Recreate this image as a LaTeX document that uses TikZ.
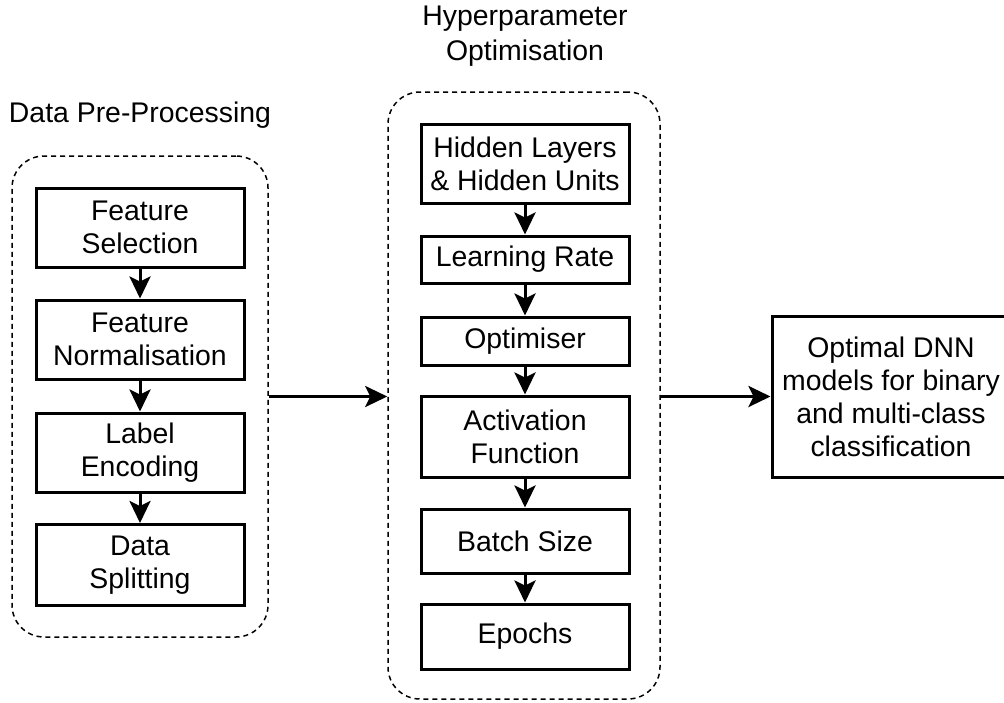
\documentclass[tikz,border=0pt]{standalone}
\usepackage{fontspec}
\setmainfont{Liberation Sans}
\usetikzlibrary{arrows.meta,calc}

\tikzset{
  x=1pt, y=-1pt,
  every node/.style={font=\fontsize{28.4}{33}\selectfont, inner sep=0pt, align=center},
  group/.style={draw, dashed, dash pattern=on 5pt off 4pt, line width=1.5pt, rounded corners=32pt},
  stepbox/.style={draw, line width=3pt, minimum width=208pt},
  arr/.style={line width=3pt, -{Stealth[length=22pt 0,width=21pt 0,inset=5pt 0]}},
}

\begin{document}
\begin{tikzpicture}
  \clip (0,0) rectangle (1004,702);
  \fill[white] (0,0) rectangle (1004,702);

  % group frames
  \node[group, minimum width=256pt, minimum height=481pt] (prep) at (140,396.5) {};
  \node[group, minimum width=272pt, minimum height=607pt] (hyper) at (524,395.5) {};

  % group titles
  \node (preptitle) at (140,115) {Data Pre-Processing};
  \node[font=\fontsize{28.4}{35}\selectfont] (hypertitle) at (525,36) {Hyperparameter\\Optimisation};

  % data pre-processing steps
  \node[stepbox, minimum height=79pt] (fs) at (140,227.5) {Feature\\Selection};
  \node[stepbox, minimum height=79pt] (fn) at (140,339.5) {Feature\\Normalisation};
  \node[stepbox, minimum height=79pt] (le) at (140,452.5) {Label\\Encoding};
  \node[stepbox, minimum height=81pt] (ds) at (140,565) {Data\\Splitting};

  % hyperparameter steps
  \node[stepbox, minimum height=79pt] (hl) at (525,163.5) {Hidden Layers\\\& Hidden Units};
  \node[stepbox, minimum height=47pt] (lr) at (525,259.5) {Learning Rate};
  \node[stepbox, minimum height=48pt] (op) at (525,341) {Optimiser};
  \node[stepbox, minimum height=81pt] (af) at (525,436.5) {Activation\\Function};
  \node[stepbox, minimum height=64pt] (bs) at (525,541) {Batch Size};
  \node[stepbox, minimum height=65pt] (ep) at (525,636.5) {Epochs};

  % result
  \node[stepbox, minimum width=238pt, minimum height=161pt] (out) at (891,396.5)
    {Optimal DNN\\models for binary\\and multi-class\\classification};

  % connectors
  \draw[arr] (fs) -- (fn);
  \draw[arr] (fn) -- (le);
  \draw[arr] (le) -- (ds);

  \draw[arr] (hl) -- (lr);
  \draw[arr] (lr) -- (op);
  \draw[arr] (op) -- (af);
  \draw[arr] (af) -- (bs);
  \draw[arr] (bs) -- (ep);

  \draw[arr] (prep.east) -- (prep.east -| hyper.west);
  \draw[arr] (prep.east -| hyper.east) -- (prep.east -| out.west);
\end{tikzpicture}
\end{document}
